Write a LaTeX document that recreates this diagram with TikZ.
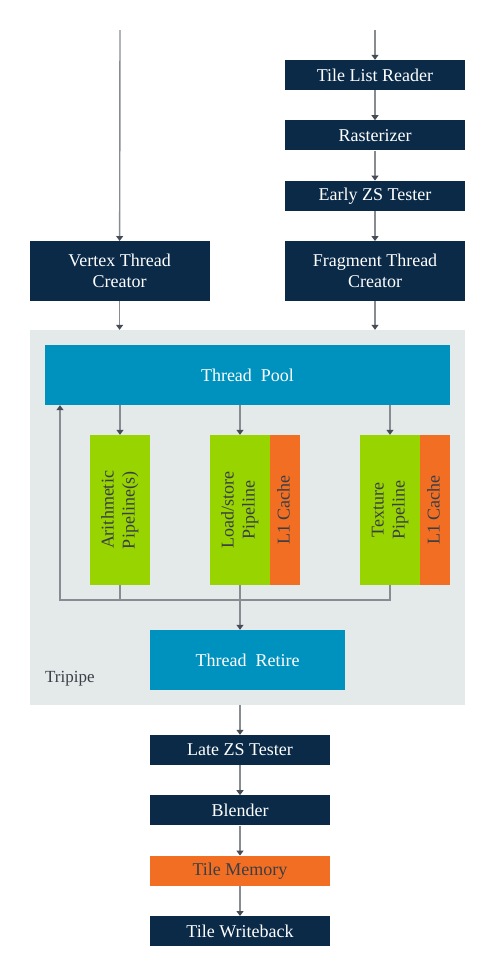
\documentclass[tikz,border=0pt]{standalone}
\usepackage{fontspec}
\setmainfont{Liberation Serif}
\usepackage{graphicx}
\usepackage{tikz}
\usetikzlibrary{positioning,arrows.meta}
\definecolor{navy}{RGB}{10,42,72}
\definecolor{poolcol}{RGB}{0,146,190}
\definecolor{pipecol}{RGB}{151,212,0}
\definecolor{cachecol}{RGB}{242,110,35}
\definecolor{tribg}{RGB}{228,233,234}
\definecolor{linecol}{RGB}{135,140,146}
\definecolor{tipcol}{RGB}{70,76,86}
\definecolor{darktext}{RGB}{58,62,70}
\newcommand{\vtext}[1]{\rotatebox{90}{\begin{tabular}{@{}c@{}}#1\end{tabular}}}
\tikzset{
  stage/.style={rectangle, fill=navy, text=white, align=center,
    minimum width=180pt, minimum height=30pt, inner sep=0pt,
    font=\fontsize{18}{21}\selectfont},
  tallstage/.style={stage, minimum height=60pt},
  unit/.style={rectangle, fill=poolcol, text=white, align=center,
    minimum height=60pt, inner sep=0pt, font=\fontsize{18}{21}\selectfont},
  pipe/.style={rectangle, fill=pipecol, text=darktext, minimum width=60pt,
    minimum height=150pt, inner sep=0pt, font=\fontsize{18}{21}\selectfont},
  cache/.style={pipe, fill=cachecol, minimum width=30pt},
  memstage/.style={stage, fill=cachecol, text=darktext},
  line/.style={draw=linecol, line width=1.4pt},
  arr/.style={line, -{Triangle[length=5pt, width=7pt, color=tipcol]}},
}
\begin{document}
\begin{tikzpicture}[x=1pt, y=-1pt]
  \useasboundingbox (0,0) rectangle (495,975);

  % fragment front end
  \node[stage] (tlr) at (375,75) {Tile List Reader};
  \node[stage, below=30pt of tlr] (ras) {Rasterizer};
  \node[stage, below=30pt of ras] (ezs) {Early ZS Tester};
  \node[tallstage, below=30pt of ezs] (ftc) {Fragment Thread\\Creator};
  \node[tallstage, left=75pt of ftc] (vtc) {Vertex Thread\\Creator};
  \coordinate (vin) at (120,30);
  \coordinate (fin) at (375,30);

  % tripipe
  \node[rectangle, fill=tribg, minimum width=435pt, minimum height=375pt, inner sep=0pt]
    (tri) at (247.5,517.5) {};
  \node[unit, minimum width=405pt] (pool) at (247.5,375) {Thread\ \ Pool};
  \node[pipe] (arith) at (120,510) {\vtext{Arithmetic\\Pipeline(s)}};
  \node[pipe] (ls) at (240,510) {\vtext{Load/store\\Pipeline}};
  \node[cache, right=0pt of ls] (l1a) {\vtext{L1 Cache}};
  \node[pipe] (tex) at (390,510) {\vtext{Texture\\Pipeline}};
  \node[cache, right=0pt of tex] (l1b) {\vtext{L1 Cache}};
  \node[unit, minimum width=195pt] (ret) at (247.5,660) {Thread\ \ Retire};
  \node[anchor=base west, text=darktext, inner sep=0pt, font=\fontsize{17}{20}\selectfont]
    (tlab) at (45,682) {Tripipe};
  \coordinate (fb) at (60,600);

  % back end
  \node[stage] (lzs) at (240,750) {Late ZS Tester};
  \node[stage, below=30pt of lzs] (bl) {Blender};
  \node[memstage, below=30pt of bl] (tm) {Tile Memory};
  \node[stage, below=30pt of tm] (twb) {Tile Writeback};

  \draw[arr] (vin) -- (vtc);
  \draw[arr] (fin) -- (tlr);
  \draw[arr] (tlr) -- (ras);
  \draw[arr] (ras) -- (ezs);
  \draw[arr] (ezs) -- (ftc);
  \draw[arr] (vtc) -- (vtc |- tri.north);
  \draw[arr] (ftc) -- (ftc |- tri.north);
  \draw[arr] (pool.south -| arith) -- (arith);
  \draw[arr] (pool.south -| ls) -- (ls);
  \draw[arr] (pool.south -| tex) -- (tex);
  \draw[arr] (tex) |- (fb) -- (fb |- pool.south);
  \draw[line] (arith) -- (arith |- fb);
  \draw[arr] (ls) -- (ret.north -| ls);
  \draw[arr] (tri.south -| lzs) -- (lzs);
  \draw[arr] (lzs) -- (bl);
  \draw[arr] (bl) -- (tm);
  \draw[arr] (tm) -- (twb);
\end{tikzpicture}
\end{document}
